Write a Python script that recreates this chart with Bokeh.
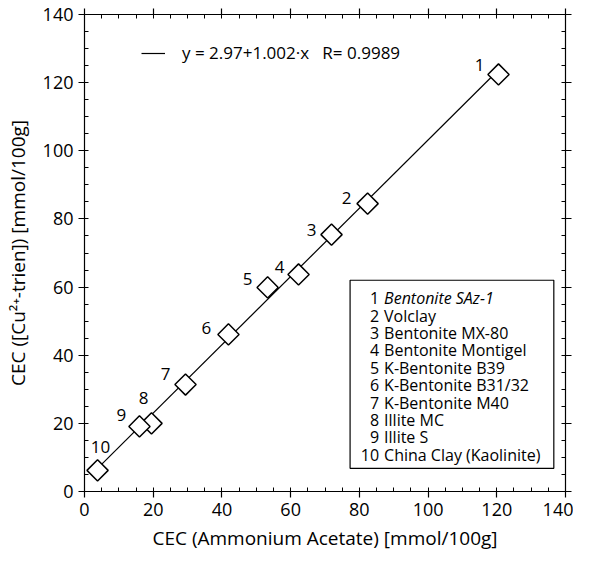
import numpy as np
from bokeh.plotting import figure
from bokeh.models import (Range1d, LinearAxis, SingleIntervalTicker, BoxAnnotation,
                          ColumnDataSource, Legend, LegendItem)
from bokeh.core.properties import value
from bokeh.embed import file_html
from bokeh.resources import INLINE

# ---------------- data ----------------
sample_ids = ["1", "2", "3", "4", "5", "6", "7", "8", "9", "10"]
sample_names = ["Bentonite SAz-1", "Volclay", "Bentonite MX-80", "Bentonite Montigel",
                "K-Bentonite B39", "K-Bentonite B31/32", "K-Bentonite M40",
                "Illite MC", "Illite S", "China Clay (Kaolinite)"]
cec_ammonium_acetate = [120.5, 82.4, 71.9, 62.3, 53.3, 41.9, 29.4, 19.5, 16.0, 3.8]
cec_cu_trien = [122.4, 84.5, 75.4, 63.7, 59.9, 46.1, 31.4, 20.0, 19.1, 6.2]
fit_intercept = 2.97
fit_slope = 1.002
fit_r = 0.9989
axis_ticks = [0, 20, 40, 60, 80, 100, 120, 140]
x_title = "CEC (Ammonium Acetate) [mmol/100g]"
y_title = "CEC ([Cu\u00b2\u207a-trien]) [mmol/100g]"

# ---------------- layout / style ----------------
FONT = "Open Sans"
label_dx = [-19, -21, -20, -19, -20, -22, -20, -8, -18, 3]
label_dy = [-9, -6, -5, -7, -8, -6, -11, -25, -11, -23]
name_styles = ["italic"] + ["normal"] * 9

p = figure(frame_width=481, frame_height=477,
           x_range=Range1d(axis_ticks[0], axis_ticks[-1]),
           y_range=Range1d(axis_ticks[0], axis_ticks[-1]),
           output_backend="svg", toolbar_location=None,
           min_border_left=84, min_border_top=14, min_border_bottom=60, min_border_right=8)
p.xgrid.visible = False
p.ygrid.visible = False
p.outline_line_color = "black"
p.background_fill_color = "white"
p.border_fill_color = "white"


def style_axis(ax, show_labels=True):
    ax.ticker = SingleIntervalTicker(interval=20, num_minor_ticks=4)
    ax.axis_line_color = "black"
    ax.axis_line_width = 1.2
    ax.major_tick_line_color = "black"
    ax.major_tick_line_width = 1.2
    ax.minor_tick_line_color = "black"
    ax.minor_tick_line_width = 1.0
    ax.major_tick_out = 6
    ax.major_tick_in = 0
    ax.minor_tick_out = 0
    ax.minor_tick_in = 4
    ax.major_label_text_font = FONT
    ax.major_label_text_color = "black"
    ax.major_label_text_font_size = "18px"
    ax.major_label_standoff = 5
    ax.axis_label_text_font = FONT
    ax.axis_label_text_font_size = "19px"
    ax.axis_label_text_font_style = "normal"
    ax.axis_label_text_color = "black"
    if not show_labels:
        ax.major_label_overrides = {t: "" for t in axis_ticks}
        ax.major_label_text_font_size = "0px"
        ax.major_label_standoff = 0


style_axis(p.xaxis[0])
style_axis(p.yaxis[0])
p.xaxis[0].axis_label = x_title
p.xaxis[0].axis_label_standoff = 6
p.yaxis[0].axis_label = y_title
p.yaxis[0].axis_label_standoff = 9
top_ax = LinearAxis()
right_ax = LinearAxis()
style_axis(top_ax, False)
style_axis(right_ax, False)
p.add_layout(top_ax, "above")
p.add_layout(right_ax, "right")

src = ColumnDataSource(dict(x=cec_ammonium_acetate, y=cec_cu_trien, ids=sample_ids,
                            dx=label_dx, dy=label_dy))

fit_x = [min(cec_ammonium_acetate), max(cec_ammonium_acetate)]
fit_y = [fit_intercept + fit_slope * v for v in fit_x]
fit = p.line(fit_x, fit_y, line_color="black", line_width=1.2)

p.scatter("x", "y", source=src, marker="square", angle=np.pi / 4, size=15,
          fill_color="white", line_color="black", line_width=1.5)
p.text("x", "y", text="ids", x_offset="dx", y_offset="dy", source=src,
       text_font=value(FONT), text_font_size="17px", text_align="center",
       text_baseline="middle", text_color="black")

eq_text = (f"y = {fit_intercept:.2f}+{fit_slope:.3f}\u00b7x\u00a0\u00a0\u00a0R= {fit_r}")
leg = Legend(items=[LegendItem(label=eq_text, renderers=[fit])], location=(57, 427),
             border_line_color=None, background_fill_alpha=0, padding=0, margin=0,
             glyph_width=24, glyph_height=20, label_height=20, label_standoff=17,
             label_text_font=FONT, label_text_font_size="17px", label_text_color="black")
p.add_layout(leg)

# sample-name box
box_left, box_right, box_bottom, box_top = 77.3, 136.6, 6.8, 62.0
p.add_layout(BoxAnnotation(left=box_left, right=box_right, bottom=box_bottom, top=box_top,
                           fill_alpha=0, line_color="black", line_alpha=1.0,
                           line_width=1.2))
n = len(sample_names)
names_src = ColumnDataSource(dict(
    x=[box_left] * n, y=[box_top] * n, ids=sample_ids, names=sample_names,
    dy=[18 + 17.4 * i for i in range(n)], style=name_styles))
p.text("x", "y", text="ids", x_offset=29, y_offset="dy", source=names_src,
       text_font=value(FONT), text_font_size="16px", text_align="right",
       text_baseline="middle", text_color="black")
p.text("x", "y", text="names", x_offset=34, y_offset="dy", source=names_src,
       text_font=value(FONT), text_font_size="16px", text_align="left",
       text_font_style="style", text_baseline="middle", text_color="black")

open("out.html", "w").write(file_html(p, INLINE))
